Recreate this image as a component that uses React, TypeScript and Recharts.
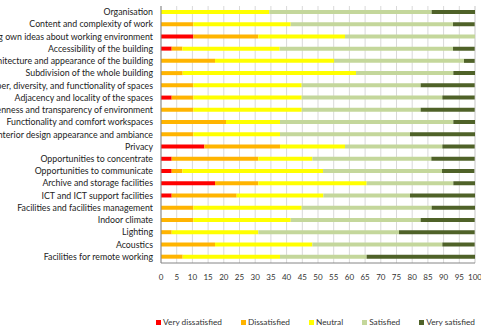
import { BarChart, Bar, XAxis, YAxis, CartesianGrid, Legend } from 'recharts';

// survey: share of respondents per answer, in %
const categories = [
  'Organisation',
  'Content and complexity of work',
  'Bring own ideas about working environment',
  'Accessibility of the building',
  'Architecture and appearance of the building',
  'Subdivision of the whole building',
  'Number, diversity, and functionality of spaces',
  'Adjacency and locality of the spaces',
  'Openness and transparency of environment',
  'Functionality and comfort workspaces ',
  'Interior design appearance and ambiance',
  'Privacy',
  'Opportunities to concentrate',
  'Opportunities to communicate',
  'Archive and storage facilities',
  'ICT and ICT support facilities',
  'Facilities and facilities management',
  'Indoor climate ',
  'Lighting',
  'Acoustics',
  'Facilities for remote working',
];

const veryDissatisfied = [0, 0, 10.3, 3.4, 0, 0, 0, 3.4, 0, 0, 0, 13.8, 3.4, 3.4, 17.2, 3.4, 0, 0, 0, 0, 0];
const dissatisfied = [0, 10.3, 20.7, 3.4, 17.2, 6.9, 10.3, 6.9, 10.3, 20.7, 10.3, 24.1, 27.6, 3.4, 13.8, 20.7, 10.3, 10.3, 3.4, 17.2, 6.9];
const neutral = [34.5, 31.0, 27.6, 31.0, 37.9, 55.2, 34.5, 34.5, 34.5, 17.2, 27.6, 20.7, 17.2, 44.8, 34.5, 27.6, 34.5, 31.0, 27.6, 31.0, 31.0];
const satisfied = [51.7, 51.7, 41.4, 55.2, 41.4, 31.0, 37.9, 44.8, 37.9, 55.2, 41.4, 31.0, 37.9, 37.9, 27.6, 27.6, 41.4, 41.4, 44.8, 41.4, 27.6];
const verySatisfied = [13.8, 6.9, 0, 6.9, 3.4, 6.9, 17.2, 10.3, 17.2, 6.9, 20.7, 10.3, 13.8, 10.3, 6.9, 20.7, 13.8, 17.2, 24.1, 10.3, 34.5];

const xTicks = [0, 5, 10, 15, 20, 25, 30, 35, 40, 45, 50, 55, 60, 65, 70, 75, 80, 85, 90, 95, 100];

const series = [
  { key: 'Very dissatisfied', color: '#ff0000' },
  { key: 'Dissatisfied', color: '#ffb400' },
  { key: 'Neutral', color: '#ffff00' },
  { key: 'Satisfied', color: '#c4d79b' },
  { key: 'Very satisfied', color: '#4f6228' },
];

const data = categories.map((name, i) => ({
  name,
  'Very dissatisfied': veryDissatisfied[i],
  Dissatisfied: dissatisfied[i],
  Neutral: neutral[i],
  Satisfied: satisfied[i],
  'Very satisfied': verySatisfied[i],
}));

const font = 'Lato, sans-serif';

function CategoryTick({ x, y, payload }: any) {
  return (
    <text x={x} y={y} dy={3} textAnchor="end" fontSize={8.8} fill="#222" fontFamily={font}>
      {payload.value}
    </text>
  );
}

function LegendBox() {
  return (
    <div style={{ display: 'flex', fontFamily: font, fontSize: 8.3, color: '#333', whiteSpace: 'nowrap' }}>
      {series.map((s) => (
        <div key={s.key} style={{ display: 'flex', alignItems: 'center', marginRight: 19 }}>
          <span style={{ width: 5, height: 5, background: s.color, marginRight: 2, display: 'inline-block' }} />
          {s.key}
        </div>
      ))}
    </div>
  );
}

export default function App() {
  return (
    <div style={{ position: 'absolute', left: 0, top: 0 }}>
      <BarChart
        width={481}
        height={333}
        data={data}
        layout="vertical"
        barCategoryGap="32%"
        margin={{ top: 6, right: 6, left: 0, bottom: 40 }}
      >
        <CartesianGrid horizontal={false} stroke="#d9d9d9" />
        <XAxis
          type="number"
          domain={[0, 100]}
          ticks={xTicks}
          interval={0}
          tickLine={false}
          axisLine={{ stroke: '#868686' }}
          tick={{ fontSize: 8, fill: '#333', fontFamily: font }}
          tickMargin={5}
          height={20}
        />
        <XAxis xAxisId="top" type="number" orientation="top" domain={[0, 100]} tick={false} tickLine={false} height={0} axisLine={{ stroke: '#868686' }} />
        <YAxis
          type="category"
          dataKey="name"
          width={161}
          interval={0}
          tickLine={false}
          axisLine={{ stroke: '#868686' }}
          tick={<CategoryTick />}
        />
        <Legend content={<LegendBox />} wrapperStyle={{ left: 156, top: 317, width: 330 }} />
        {series.map((s) => (
          <Bar key={s.key} dataKey={s.key} stackId="a" fill={s.color} isAnimationActive={false} />
        ))}
      </BarChart>
    </div>
  );
}
